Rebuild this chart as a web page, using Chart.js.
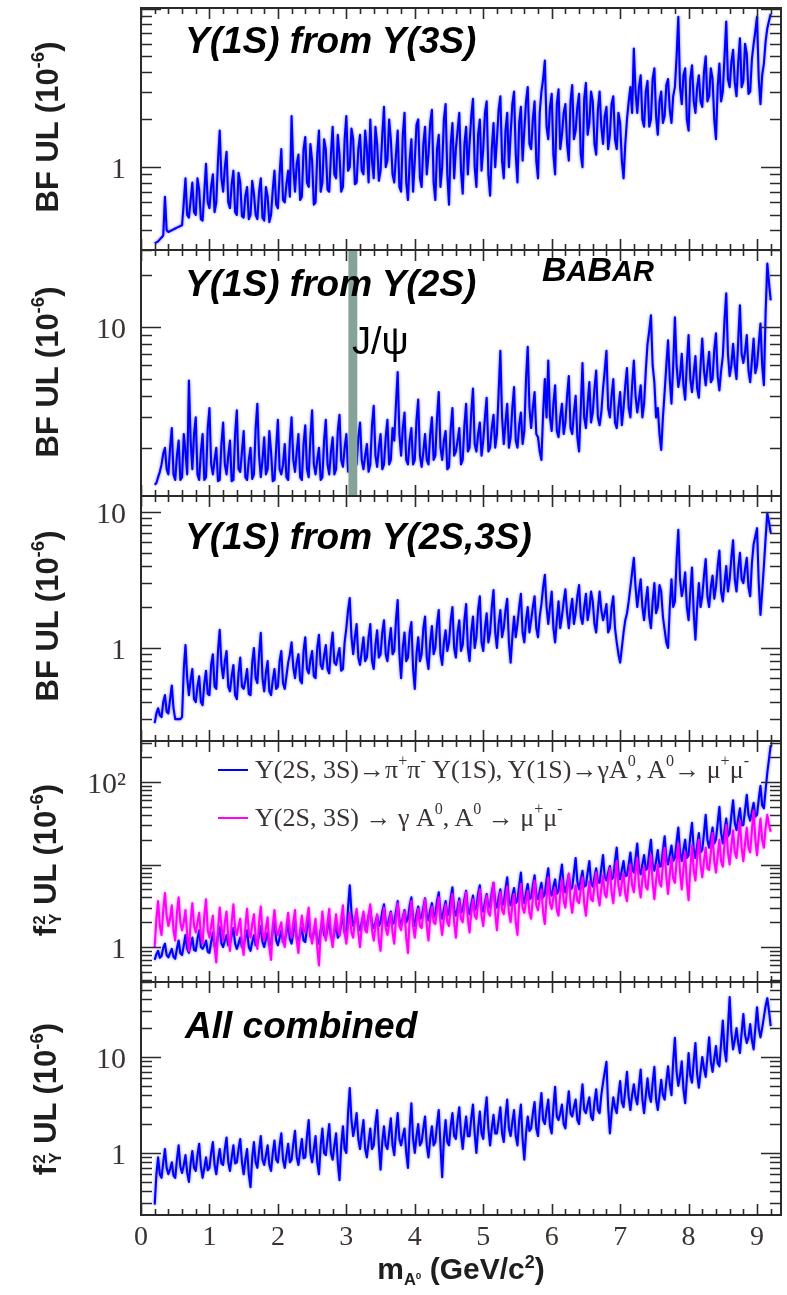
<!DOCTYPE html>
<html lang="en">
  <head>
    <meta charset="UTF-8" />
    <title>Upper limits vs m(A0)</title>
    <script src="https://cdn.jsdelivr.net/npm/chart.js"></script>
    <style>
      * {
        margin: 0;
        padding: 0;
        box-sizing: border-box;
      }
      body {
        width: 787px;
        height: 1295px;
        background: #ffffff;
        position: relative;
        overflow: hidden;
        font-family: "Liberation Sans", Arial, sans-serif;
        color: #111;
      }
      canvas.panel {
        position: absolute;
        left: 0;
      }
      .ytitle {
        position: absolute;
        left: 46px;
        transform: translate(-50%, -50%) rotate(-90deg);
        font-weight: bold;
        font-size: 31px;
        white-space: nowrap;
        color: #1e1e1e;
        line-height: 1;
      }
      .ytitle sup {
        font-size: 0.6em;
        vertical-align: 0.7em;
      }
      .ss {
        display: inline-flex;
        flex-direction: column;
        font-size: 0.55em;
        line-height: 0.95;
        vertical-align: middle;
        margin-left: 1px;
      }
      .tag {
        position: absolute;
        left: 185px;
        font: italic bold 37px "Liberation Sans", Arial, sans-serif;
        line-height: 1;
        white-space: nowrap;
        color: #000;
      }
      .babar {
        position: absolute;
        left: 542px;
        top: 252px;
        font: italic bold 34px "Liberation Sans", Arial, sans-serif;
        line-height: 1;
        color: #000;
      }
      .babar small {
        font-size: 29px;
      }
      .jpsi {
        position: absolute;
        left: 352px;
        top: 322px;
        font: 38px "Liberation Sans", Arial, sans-serif;
        line-height: 1;
        color: #000;
      }
      .leg {
        position: absolute;
        left: 218px;
        font: 26px "Liberation Serif", "Times New Roman", serif;
        line-height: 30px;
        height: 30px;
        display: flex;
        align-items: center;
        white-space: nowrap;
        color: #3a3331;
      }
      .leg sup {
        font-size: 0.62em;
        position: relative;
        top: -0.55em;
        vertical-align: baseline;
        line-height: 0;
      }
      .swatch {
        width: 30px;
        border-top: 2px solid;
        margin-right: 7px;
      }
      .xtitle {
        position: absolute;
        left: 461px;
        top: 1253px;
        transform: translateX(-50%);
        font-weight: bold;
        font-size: 30px;
        white-space: nowrap;
        line-height: 1;
        color: #1e1e1e;
      }
      .xtitle sub {
        font-size: 0.55em;
        vertical-align: -0.35em;
      }
      .xtitle sup {
        font-size: 0.6em;
        vertical-align: 0.6em;
      }
    </style>
  </head>
  <body>
    <canvas id="p1" class="panel" width="787" height="250" style="top: 4px"></canvas>
    <canvas id="p2" class="panel" width="787" height="254" style="top: 246px"></canvas>
    <canvas id="p3" class="panel" width="787" height="253" style="top: 492px"></canvas>
    <canvas id="p4" class="panel" width="787" height="249" style="top: 737px"></canvas>
    <canvas id="p5" class="panel" width="787" height="287" style="top: 978px"></canvas>

    <div class="ytitle" style="top: 127px">BF UL (10<sup>-6</sup>)</div>
    <div class="ytitle" style="top: 372px">BF UL (10<sup>-6</sup>)</div>
    <div class="ytitle" style="top: 616px">BF UL (10<sup>-6</sup>)</div>
    <div class="ytitle" style="top: 860px">
      f<span class="ss"><span>2</span><span>Υ</span></span> UL (10<sup>-6</sup>)
    </div>
    <div class="ytitle" style="top: 1099px">
      f<span class="ss"><span>2</span><span>Υ</span></span> UL (10<sup>-6</sup>)
    </div>

    <div class="tag" style="top: 22px">Y(1S) from Y(3S)</div>
    <div class="tag" style="top: 265px">Y(1S) from Y(2S)</div>
    <div class="tag" style="top: 518px">Y(1S) from Y(2S,3S)</div>
    <div class="tag" style="top: 1007px">All combined</div>
    <div class="babar">B<small>A</small>B<small>AR</small></div>
    <div class="jpsi">J/ψ</div>

    <div class="leg" style="top: 755px">
      <span class="swatch" style="border-color: #0000ff"></span>Y(2S, 3S)→π<sup>+</sup>π<sup>-</sup>&nbsp;Y(1S),
      Y(1S)→γA<sup>0</sup>, A<sup>0</sup>→ μ<sup>+</sup>μ<sup>-</sup>
    </div>
    <div class="leg" style="top: 803px">
      <span class="swatch" style="border-color: #ff00ff"></span>Y(2S, 3S) → γ A<sup>0</sup>, A<sup>0</sup>
      &nbsp;→ μ<sup>+</sup>μ<sup>-</sup>
    </div>

    <div class="xtitle">m<sub>A<sup>0</sup></sub> (GeV/c<sup>2</sup>)</div>

    <script>
      // A0 mass points (GeV/c^2), 25 MeV apart
      const mass = [
        0.200, 0.225, 0.250, 0.275, 0.300, 0.325, 0.350, 0.375, 0.400, 0.425, 0.450, 0.475, 0.500, 0.525, 0.550, 0.575, 0.600, 0.625, 0.650, 0.675,
        0.700, 0.725, 0.750, 0.775, 0.800, 0.825, 0.850, 0.875, 0.900, 0.925, 0.950, 0.975, 1.000, 1.025, 1.050, 1.075, 1.100, 1.125, 1.150, 1.175,
        1.200, 1.225, 1.250, 1.275, 1.300, 1.325, 1.350, 1.375, 1.400, 1.425, 1.450, 1.475, 1.500, 1.525, 1.550, 1.575, 1.600, 1.625, 1.650, 1.675,
        1.700, 1.725, 1.750, 1.775, 1.800, 1.825, 1.850, 1.875, 1.900, 1.925, 1.950, 1.975, 2.000, 2.025, 2.050, 2.075, 2.100, 2.125, 2.150, 2.175,
        2.200, 2.225, 2.250, 2.275, 2.300, 2.325, 2.350, 2.375, 2.400, 2.425, 2.450, 2.475, 2.500, 2.525, 2.550, 2.575, 2.600, 2.625, 2.650, 2.675,
        2.700, 2.725, 2.750, 2.775, 2.800, 2.825, 2.850, 2.875, 2.900, 2.925, 2.950, 2.975, 3.000, 3.025, 3.050, 3.075, 3.100, 3.125, 3.150, 3.175,
        3.200, 3.225, 3.250, 3.275, 3.300, 3.325, 3.350, 3.375, 3.400, 3.425, 3.450, 3.475, 3.500, 3.525, 3.550, 3.575, 3.600, 3.625, 3.650, 3.675,
        3.700, 3.725, 3.750, 3.775, 3.800, 3.825, 3.850, 3.875, 3.900, 3.925, 3.950, 3.975, 4.000, 4.025, 4.050, 4.075, 4.100, 4.125, 4.150, 4.175,
        4.200, 4.225, 4.250, 4.275, 4.300, 4.325, 4.350, 4.375, 4.400, 4.425, 4.450, 4.475, 4.500, 4.525, 4.550, 4.575, 4.600, 4.625, 4.650, 4.675,
        4.700, 4.725, 4.750, 4.775, 4.800, 4.825, 4.850, 4.875, 4.900, 4.925, 4.950, 4.975, 5.000, 5.025, 5.050, 5.075, 5.100, 5.125, 5.150, 5.175,
        5.200, 5.225, 5.250, 5.275, 5.300, 5.325, 5.350, 5.375, 5.400, 5.425, 5.450, 5.475, 5.500, 5.525, 5.550, 5.575, 5.600, 5.625, 5.650, 5.675,
        5.700, 5.725, 5.750, 5.775, 5.800, 5.825, 5.850, 5.875, 5.900, 5.925, 5.950, 5.975, 6.000, 6.025, 6.050, 6.075, 6.100, 6.125, 6.150, 6.175,
        6.200, 6.225, 6.250, 6.275, 6.300, 6.325, 6.350, 6.375, 6.400, 6.425, 6.450, 6.475, 6.500, 6.525, 6.550, 6.575, 6.600, 6.625, 6.650, 6.675,
        6.700, 6.725, 6.750, 6.775, 6.800, 6.825, 6.850, 6.875, 6.900, 6.925, 6.950, 6.975, 7.000, 7.025, 7.050, 7.075, 7.100, 7.125, 7.150, 7.175,
        7.200, 7.225, 7.250, 7.275, 7.300, 7.325, 7.350, 7.375, 7.400, 7.425, 7.450, 7.475, 7.500, 7.525, 7.550, 7.575, 7.600, 7.625, 7.650, 7.675,
        7.700, 7.725, 7.750, 7.775, 7.800, 7.825, 7.850, 7.875, 7.900, 7.925, 7.950, 7.975, 8.000, 8.025, 8.050, 8.075, 8.100, 8.125, 8.150, 8.175,
        8.200, 8.225, 8.250, 8.275, 8.300, 8.325, 8.350, 8.375, 8.400, 8.425, 8.450, 8.475, 8.500, 8.525, 8.550, 8.575, 8.600, 8.625, 8.650, 8.675,
        8.700, 8.725, 8.750, 8.775, 8.800, 8.825, 8.850, 8.875, 8.900, 8.925, 8.950, 8.975, 9.000, 9.025, 9.050, 9.075, 9.100, 9.125, 9.150, 9.175,
        9.200,
      ];

      // BF upper limit, Y(1S) from Y(3S)  (10^-6)
      const bf3s = [
        0.33, 0.335, 0.34, 0.35, 0.36, 0.37, 0.65, 0.40, 0.39, 0.395, 0.40, 0.405, 0.41, 0.415, 0.42, 0.425, 0.43, 0.60, 0.85, 0.50,
        0.48, 0.62, 0.80, 0.52, 0.50, 0.85, 0.72, 0.47, 0.46, 0.70, 1.05, 0.60, 0.55, 0.75, 0.90, 0.52, 0.60, 1.10, 1.70, 0.85,
        0.70, 1.00, 1.25, 0.60, 0.55, 0.78, 0.95, 0.52, 0.50, 0.92, 0.80, 0.49, 0.48, 0.66, 0.75, 0.47, 0.50, 0.82, 0.68, 0.50,
        0.47, 0.70, 0.85, 0.48, 0.46, 0.75, 0.65, 0.45, 0.50, 0.72, 0.95, 0.58, 0.55, 0.90, 1.30, 0.62, 0.60, 0.78, 0.95, 0.65,
        2.10, 1.00, 0.70, 1.05, 1.20, 0.62, 0.65, 1.30, 1.55, 0.80, 0.75, 1.40, 1.10, 0.58, 0.60, 1.20, 1.70, 0.70, 0.80, 1.50,
        1.30, 0.72, 0.70, 1.20, 1.80, 0.90, 0.85, 1.60, 1.20, 0.70, 0.75, 1.50, 2.10, 0.95, 1.00, 1.75, 1.50, 0.78, 0.80, 1.30,
        1.60, 0.95, 0.90, 1.70, 1.30, 0.80, 2.00, 1.10, 0.85, 1.80, 1.40, 0.82, 0.95, 1.60, 2.40, 1.00, 1.10, 2.00, 1.50, 0.90,
        0.80, 1.20, 1.70, 0.75, 0.70, 1.60, 2.20, 0.80, 0.62, 1.10, 1.50, 0.70, 1.10, 1.85, 2.00, 0.85, 0.75, 1.40, 1.80, 0.90,
        1.20, 1.90, 2.30, 0.80, 0.62, 1.30, 1.60, 0.75, 1.00, 2.00, 2.50, 0.90, 0.58, 1.40, 1.90, 0.85, 1.30, 1.70, 2.20, 0.95,
        0.68, 1.40, 1.80, 0.90, 1.40, 2.10, 2.70, 1.00, 0.75, 1.60, 2.00, 0.95, 1.30, 2.20, 2.60, 0.90, 0.66, 1.30, 1.90, 1.00,
        1.50, 2.30, 2.80, 1.10, 0.85, 1.70, 2.20, 1.00, 1.60, 2.50, 3.00, 1.20, 0.80, 1.90, 2.40, 1.10, 1.70, 2.60, 3.20, 1.40,
        1.30, 2.00, 2.60, 1.10, 0.85, 2.20, 3.00, 3.60, 4.70, 1.80, 1.50, 2.40, 2.90, 1.20, 0.90, 2.50, 3.10, 1.30, 1.60, 2.20,
        2.50, 1.40, 1.10, 2.60, 3.30, 1.50, 1.70, 2.40, 2.90, 1.20, 1.00, 2.70, 3.40, 1.60, 1.90, 3.00, 2.60, 1.40, 1.20, 2.30,
        3.00, 1.80, 1.40, 2.10, 2.40, 1.30, 1.60, 2.50, 2.80, 1.50, 1.30, 2.20, 1.90, 1.10, 0.85, 1.40, 2.00, 2.60, 3.20, 2.20,
        5.60, 3.00, 2.20, 3.20, 3.80, 2.00, 1.80, 3.00, 3.50, 1.80, 2.00, 3.60, 4.20, 2.10, 1.60, 2.60, 3.00, 1.90, 2.10, 3.30,
        3.60, 2.30, 1.90, 2.80, 3.20, 5.00, 8.90, 3.20, 2.50, 3.80, 4.20, 2.00, 1.70, 3.60, 4.40, 2.60, 2.20, 3.20, 3.80, 2.60,
        2.40, 4.00, 5.00, 2.60, 2.80, 4.20, 3.60, 2.00, 1.50, 3.20, 4.50, 2.60, 3.00, 5.00, 8.30, 3.60, 3.20, 4.60, 5.50, 3.40,
        2.80, 4.60, 6.50, 3.20, 3.50, 6.00, 5.20, 2.90, 3.00, 4.80, 6.00, 7.20, 8.90, 3.60, 2.50, 3.80, 4.50, 6.20, 7.50, 8.40,
        9.30,
      ];

      // BF upper limit, Y(1S) from Y(2S)
      const bf2s = [
        1.22, 1.25, 1.35, 1.45, 1.60, 1.85, 2.00, 1.50, 1.40, 2.00, 2.60, 1.40, 1.30, 1.80, 2.20, 1.30, 1.35, 2.40, 1.90, 1.40,
        4.90, 2.20, 1.50, 2.40, 3.00, 1.40, 1.30, 1.90, 2.40, 1.30, 1.35, 2.60, 3.40, 1.60, 1.40, 1.70, 2.00, 1.28, 1.30, 2.10,
        2.80, 1.60, 1.40, 1.80, 2.20, 1.28, 1.30, 2.40, 3.30, 1.50, 1.45, 1.90, 2.50, 1.35, 1.30, 1.70, 2.00, 1.32, 1.40, 2.60,
        3.60, 1.80, 1.35, 1.70, 2.30, 1.40, 1.50, 2.50, 1.90, 1.28, 1.30, 2.00, 2.90, 1.50, 1.40, 1.60, 2.10, 1.35, 1.30, 2.20,
        3.00, 1.70, 1.45, 1.90, 2.40, 1.35, 1.30, 2.10, 2.70, 1.50, 1.35, 2.30, 3.30, 1.60, 1.40, 1.70, 2.00, 1.30, 1.35, 2.20,
        2.90, 1.60, 1.40, 1.90, 2.30, 1.40, 1.50, 2.50, 3.10, 1.70, 1.55, 2.00, 2.40, 1.45, 1.50, 2.60, 3.20, 1.80, 1.60, 2.30,
        2.80, 1.70, 1.50, 1.80, 2.10, 1.45, 1.60, 2.70, 3.50, 1.80, 1.55, 2.00, 2.40, 1.50, 1.60, 2.30, 2.90, 1.60, 1.70, 2.60,
        2.20, 3.60, 5.50, 2.40, 1.80, 2.60, 3.20, 1.70, 1.60, 2.20, 2.60, 1.60, 1.70, 2.90, 3.80, 1.80, 1.55, 1.90, 2.40, 1.70,
        1.60, 2.40, 3.00, 1.70, 1.80, 3.00, 4.20, 2.00, 1.70, 2.20, 2.50, 1.50, 1.55, 2.60, 3.40, 1.80, 1.90, 2.20, 2.60, 1.60,
        1.70, 2.70, 3.60, 1.90, 2.00, 3.20, 4.40, 2.10, 1.90, 2.40, 2.80, 1.80, 2.20, 3.00, 3.90, 1.90, 2.00, 2.60, 3.10, 2.00,
        2.40, 4.20, 7.30, 3.00, 2.10, 2.80, 3.60, 2.00, 2.30, 3.40, 4.50, 2.20, 2.00, 2.70, 3.20, 2.10, 2.50, 5.00, 7.70, 3.40,
        2.60, 3.40, 4.20, 2.40, 2.30, 1.90, 1.70, 3.20, 5.00, 3.00, 6.40, 3.00, 2.50, 3.60, 4.60, 2.50, 2.30, 3.00, 3.60, 2.40,
        2.80, 4.00, 5.20, 2.60, 2.40, 3.20, 4.00, 2.30, 1.90, 3.40, 6.20, 3.00, 2.60, 3.60, 4.80, 2.80, 3.20, 4.40, 5.60, 3.00,
        2.70, 3.20, 4.40, 5.60, 7.30, 3.40, 3.00, 4.00, 5.00, 2.80, 2.60, 3.40, 4.20, 2.70, 3.40, 4.60, 5.80, 3.40, 3.00, 4.60,
        6.40, 4.00, 3.20, 3.80, 4.60, 3.00, 3.60, 5.60, 8.00, 9.50, 11.7, 6.00, 4.80, 3.00, 3.40, 2.40, 1.94, 3.00, 4.20, 6.00,
        8.40, 5.00, 3.60, 6.00, 11.4, 6.00, 4.50, 5.20, 7.00, 4.60, 3.80, 6.20, 9.00, 5.00, 4.20, 5.40, 6.80, 4.40, 3.90, 6.00,
        8.60, 5.60, 4.60, 5.80, 7.20, 4.80, 5.00, 7.40, 9.20, 5.20, 4.30, 5.60, 6.80, 11.0, 15.7, 7.00, 5.20, 6.00, 8.00, 6.00,
        5.00, 8.40, 13.4, 7.00, 6.20, 7.20, 9.00, 5.60, 4.80, 6.40, 8.60, 5.40, 6.00, 8.00, 10.5, 6.00, 4.60, 12.0, 23.4, 18.0,
        14.3,
      ];

      // BF upper limit, Y(1S) from Y(2S,3S)
      const bf23 = [
        0.28, 0.33, 0.36, 0.32, 0.31, 0.40, 0.45, 0.34, 0.33, 0.42, 0.53, 0.36, 0.30, 0.30, 0.30, 0.30, 0.31, 0.70, 1.05, 0.60,
        0.45, 0.58, 0.70, 0.42, 0.40, 0.52, 0.62, 0.40, 0.38, 0.55, 0.68, 0.46, 0.45, 0.75, 0.90, 0.52, 0.50, 0.95, 1.36, 0.75,
        0.60, 0.80, 0.95, 0.52, 0.48, 0.62, 0.75, 0.45, 0.42, 0.65, 0.85, 0.52, 0.50, 0.58, 0.70, 0.46, 0.45, 0.78, 1.00, 0.60,
        0.55, 0.90, 1.29, 0.60, 0.48, 0.66, 0.80, 0.48, 0.45, 0.58, 0.70, 0.50, 0.52, 0.80, 0.95, 0.55, 0.50, 0.62, 0.78, 0.90,
        1.10, 0.72, 0.60, 0.78, 0.90, 0.58, 0.55, 0.95, 1.20, 0.70, 0.65, 0.82, 0.95, 0.62, 0.60, 1.00, 1.25, 0.75, 0.70, 0.88,
        1.05, 0.70, 0.65, 1.00, 1.30, 0.78, 0.75, 0.88, 1.00, 0.68, 0.70, 1.10, 1.40, 1.90, 2.33, 1.20, 0.90, 1.20, 1.50, 0.85,
        0.75, 0.95, 1.20, 0.80, 0.85, 1.20, 1.50, 0.80, 0.70, 1.05, 1.35, 0.85, 0.90, 1.30, 1.60, 0.90, 0.80, 1.10, 1.40, 0.90,
        0.95, 1.60, 2.25, 0.90, 0.60, 1.00, 1.30, 0.80, 0.85, 1.30, 1.55, 0.70, 0.50, 0.90, 1.20, 0.80, 0.90, 1.40, 1.70, 0.85,
        0.70, 1.10, 1.45, 0.90, 1.00, 1.50, 1.90, 0.90, 0.75, 1.10, 1.35, 0.95, 1.10, 1.60, 2.00, 1.00, 0.85, 1.30, 1.60, 0.95,
        1.05, 1.60, 2.10, 1.00, 0.80, 1.30, 1.70, 1.00, 1.20, 1.90, 2.40, 1.10, 0.95, 1.40, 1.80, 1.10, 1.30, 2.00, 2.67, 1.30,
        1.00, 1.50, 1.90, 1.20, 1.40, 1.90, 2.30, 1.10, 0.78, 1.20, 1.70, 1.20, 1.50, 2.00, 2.50, 1.30, 1.10, 1.60, 2.00, 1.30,
        1.60, 2.00, 2.40, 1.40, 1.20, 1.70, 2.10, 2.80, 3.45, 2.00, 1.50, 2.00, 2.60, 1.40, 1.10, 1.60, 2.20, 1.40, 1.70, 2.20,
        2.70, 1.80, 1.40, 1.90, 2.30, 1.50, 1.80, 2.40, 2.90, 1.70, 1.50, 2.00, 2.50, 1.60, 1.90, 2.60, 2.20, 1.50, 1.30, 1.90,
        2.60, 1.90, 1.60, 1.80, 2.10, 1.30, 1.40, 2.00, 2.40, 1.40, 1.10, 0.90, 0.78, 1.00, 1.30, 1.60, 1.80, 2.20, 2.80, 3.60,
        4.60, 2.80, 2.00, 2.60, 3.20, 2.00, 1.60, 2.20, 2.80, 1.70, 1.40, 2.20, 3.00, 1.80, 2.00, 2.90, 2.60, 1.70, 1.36, 1.10,
        1.00, 2.00, 3.20, 2.00, 2.20, 4.50, 7.40, 3.20, 2.40, 2.80, 3.60, 2.00, 1.60, 2.60, 3.90, 1.80, 1.15, 2.00, 3.00, 2.00,
        2.40, 3.40, 4.50, 2.40, 2.00, 2.80, 3.40, 2.30, 2.80, 4.00, 5.20, 2.60, 2.20, 3.00, 4.00, 2.60, 3.20, 4.60, 6.20, 3.20,
        2.60, 3.80, 5.00, 3.20, 3.00, 3.80, 4.60, 2.80, 2.40, 4.20, 5.80, 6.60, 7.60, 3.00, 1.75, 2.60, 4.00, 6.40, 9.80, 8.40,
        7.00,
      ];

      // f^2 upper limit, Y(2S,3S) -> pi+ pi- Y(1S), Y(1S) -> gamma A0
      const f2Cascade = [
        0.70, 0.82, 0.90, 0.74, 0.78, 0.98, 1.10, 0.80, 0.75, 0.85, 0.95, 0.76, 0.72, 0.96, 1.20, 0.84, 0.80, 1.05, 1.40, 0.95,
        0.85, 1.05, 1.30, 0.92, 0.90, 1.25, 1.60, 1.00, 0.95, 1.05, 1.20, 0.88, 0.85, 1.15, 1.50, 1.02, 1.00, 1.40, 1.75, 1.10,
        1.00, 1.20, 1.40, 1.05, 1.10, 1.40, 1.70, 1.10, 0.95, 1.10, 1.30, 1.00, 1.05, 1.30, 1.60, 1.00, 0.90, 1.15, 1.40, 1.05,
        1.10, 1.40, 1.80, 1.15, 1.00, 1.25, 1.50, 1.05, 1.10, 1.60, 2.10, 1.20, 1.05, 1.30, 1.60, 1.15, 1.20, 1.50, 1.90, 1.25,
        1.10, 1.50, 2.00, 1.30, 1.20, 1.40, 1.70, 1.20, 1.15, 1.70, 2.30, 1.35, 1.25, 1.50, 1.80, 1.20, 1.10, 1.60, 2.10, 1.40,
        1.30, 1.70, 2.20, 1.35, 1.20, 1.50, 1.90, 1.30, 1.40, 1.90, 2.40, 1.50, 1.30, 3.00, 5.60, 2.60, 1.80, 2.10, 2.60, 1.80,
        1.60, 2.00, 2.50, 1.70, 1.80, 2.40, 2.90, 1.90, 1.70, 2.00, 2.40, 1.80, 2.00, 2.70, 3.30, 2.00, 1.80, 2.20, 2.70, 1.90,
        2.00, 2.70, 3.60, 2.10, 1.90, 2.30, 2.80, 2.00, 2.20, 3.20, 4.00, 2.20, 1.80, 2.50, 3.10, 2.20, 2.30, 3.00, 3.90, 2.40,
        2.10, 2.80, 3.40, 2.30, 2.50, 3.60, 4.60, 2.60, 2.20, 2.90, 3.60, 2.40, 2.60, 4.00, 5.30, 2.80, 2.40, 3.00, 3.90, 2.60,
        2.80, 3.80, 4.80, 2.80, 2.50, 3.30, 4.20, 2.80, 3.00, 4.40, 5.60, 3.00, 2.70, 3.50, 4.40, 3.00, 3.20, 4.60, 6.00, 3.40,
        3.00, 4.00, 5.00, 3.20, 3.40, 5.00, 7.00, 3.60, 3.20, 4.20, 5.20, 3.40, 3.60, 5.60, 8.00, 4.00, 3.40, 4.60, 5.80, 3.80,
        4.00, 5.60, 7.40, 4.20, 3.80, 4.80, 6.00, 4.00, 4.40, 6.60, 9.00, 4.80, 4.20, 5.40, 6.60, 4.40, 4.80, 7.20, 10.0, 5.40,
        4.60, 6.00, 7.60, 5.00, 5.20, 8.00, 12.0, 6.20, 5.00, 6.60, 8.40, 5.40, 5.60, 8.00, 11.0, 6.00, 5.40, 7.00, 9.00, 6.20,
        6.00, 9.00, 13.0, 7.00, 6.40, 8.00, 9.60, 6.60, 7.00, 11.0, 16.0, 8.00, 6.60, 8.60, 11.0, 7.20, 7.40, 10.0, 14.0, 8.60,
        8.00, 12.0, 18.0, 9.00, 7.60, 10.0, 13.0, 8.60, 9.00, 14.0, 20.0, 10.0, 8.40, 11.0, 15.0, 9.40, 9.60, 15.0, 22.0, 12.0,
        10.0, 13.0, 17.0, 11.0, 12.0, 19.0, 28.0, 14.0, 11.0, 15.0, 20.0, 12.0, 13.0, 22.0, 32.0, 15.0, 12.0, 17.0, 24.0, 14.0,
        15.0, 24.0, 40.0, 20.0, 16.0, 21.0, 28.0, 18.0, 20.0, 32.0, 50.0, 24.0, 18.0, 26.0, 36.0, 22.0, 24.0, 40.0, 60.0, 32.0,
        26.0, 36.0, 48.0, 30.0, 30.0, 46.0, 70.0, 40.0, 34.0, 44.0, 56.0, 38.0, 40.0, 62.0, 90.0, 52.0, 48.0, 80.0, 130, 190,
        280,
      ];

      // f^2 upper limit, Y(2S,3S) -> gamma A0
      const f2Direct = [
        1.00, 2.20, 3.60, 1.80, 1.40, 2.80, 4.50, 2.40, 1.80, 2.20, 3.20, 1.60, 1.20, 2.60, 4.00, 2.00, 1.60, 2.00, 2.80, 1.40,
        0.90, 2.00, 3.40, 1.80, 1.50, 2.00, 2.60, 1.40, 1.10, 2.40, 3.80, 1.60, 1.30, 1.80, 2.40, 1.00, 0.65, 1.60, 3.00, 1.80,
        1.20, 2.00, 2.70, 1.30, 0.90, 2.00, 3.30, 1.70, 1.40, 1.80, 2.20, 1.10, 0.80, 1.80, 2.90, 1.50, 1.30, 1.90, 2.50, 1.30,
        0.95, 2.00, 3.10, 1.50, 1.20, 1.70, 2.30, 1.00, 0.70, 1.80, 2.80, 1.60, 1.40, 1.70, 2.00, 1.20, 1.00, 1.80, 2.60, 1.60,
        1.30, 2.00, 2.80, 1.20, 0.85, 1.60, 2.40, 1.60, 1.50, 2.20, 3.00, 1.40, 1.10, 1.60, 2.20, 1.00, 0.60, 1.50, 2.70, 1.60,
        1.20, 2.00, 2.90, 1.40, 1.00, 1.70, 2.50, 1.60, 1.40, 2.20, 3.20, 1.50, 1.10, 1.80, 2.60, 1.50, 1.30, 2.10, 2.90, 1.50,
        1.00, 1.80, 2.70, 1.60, 1.50, 2.40, 3.30, 1.60, 1.20, 1.80, 2.50, 1.20, 0.90, 1.90, 3.00, 1.70, 1.40, 1.90, 2.60, 1.50,
        1.10, 2.20, 3.40, 1.80, 1.60, 2.20, 2.70, 1.30, 0.85, 2.20, 3.60, 1.80, 1.30, 2.00, 2.90, 1.80, 1.70, 2.60, 3.80, 1.80,
        1.20, 2.20, 3.10, 2.00, 1.90, 2.80, 4.00, 2.00, 1.40, 2.20, 3.30, 2.00, 1.80, 3.00, 4.40, 2.00, 1.30, 2.40, 3.60, 2.20,
        2.00, 3.20, 4.60, 2.20, 1.50, 2.60, 3.80, 2.40, 2.20, 3.40, 5.00, 2.40, 1.80, 3.00, 4.20, 2.60, 2.40, 4.00, 6.00, 2.60,
        1.60, 3.00, 4.60, 2.80, 2.50, 3.80, 5.40, 2.60, 2.00, 3.20, 4.40, 2.00, 1.40, 3.40, 5.80, 3.00, 2.60, 3.60, 4.80, 2.60,
        2.20, 4.00, 6.40, 3.20, 2.80, 3.80, 5.00, 2.60, 1.90, 4.00, 7.00, 3.40, 2.90, 4.00, 5.20, 2.80, 2.40, 4.40, 6.60, 3.60,
        3.00, 5.00, 7.80, 3.60, 2.60, 4.00, 5.60, 3.60, 3.40, 5.00, 7.00, 3.40, 2.40, 4.00, 6.20, 3.80, 3.60, 5.60, 8.00, 4.20,
        3.20, 5.20, 7.40, 4.40, 4.00, 6.40, 9.00, 4.60, 3.40, 6.00, 11.0, 5.60, 4.20, 6.00, 7.80, 4.40, 3.60, 6.20, 10.0, 5.60,
        4.60, 8.00, 12.0, 5.60, 4.00, 6.60, 9.40, 5.40, 5.00, 8.40, 13.0, 6.00, 3.80, 6.40, 10.0, 6.00, 5.40, 10.0, 16.0, 7.00,
        4.40, 7.60, 12.0, 6.80, 6.00, 11.0, 18.0, 8.00, 5.00, 9.00, 14.0, 6.00, 3.70, 9.00, 17.0, 8.40, 6.40, 12.0, 20.0, 10.0,
        7.00, 11.0, 16.0, 9.00, 8.60, 14.0, 24.0, 11.0, 8.00, 13.0, 20.0, 11.0, 9.40, 18.0, 30.0, 14.0, 10.0, 17.0, 26.0, 14.0,
        12.0, 20.0, 34.0, 16.0, 11.0, 18.0, 28.0, 16.0, 14.0, 26.0, 45.0, 20.0, 13.0, 22.0, 36.0, 20.0, 16.0, 28.0, 40.0, 30.0,
        25.0,
      ];

      // f^2 upper limit, all combined
      const f2All = [
        0.29, 0.60, 0.90, 0.60, 0.55, 0.80, 1.10, 0.70, 0.60, 0.68, 0.80, 0.58, 0.55, 0.85, 1.20, 0.72, 0.62, 0.75, 0.95, 0.62,
        0.50, 0.78, 1.05, 0.70, 0.65, 0.95, 1.25, 0.72, 0.55, 0.70, 0.90, 0.66, 0.70, 1.00, 1.30, 0.75, 0.60, 0.85, 1.10, 0.78,
        0.75, 1.10, 1.45, 0.80, 0.65, 0.90, 1.20, 0.78, 0.80, 1.10, 1.40, 0.80, 0.60, 0.85, 1.10, 0.60, 0.44, 0.90, 1.30, 0.80,
        0.70, 1.05, 1.50, 0.85, 0.75, 0.95, 1.20, 0.75, 0.65, 1.00, 1.35, 0.85, 0.80, 1.20, 1.60, 0.85, 0.70, 0.95, 1.25, 0.80,
        0.85, 1.25, 1.70, 0.90, 0.75, 1.05, 1.40, 0.88, 0.90, 1.50, 2.20, 1.00, 0.80, 1.10, 1.50, 0.80, 0.60, 1.20, 1.80, 1.00,
        0.95, 1.40, 2.00, 1.00, 0.85, 1.20, 1.60, 0.80, 0.52, 1.20, 1.90, 1.10, 1.00, 2.60, 4.75, 2.20, 1.50, 1.90, 2.60, 1.40,
        1.10, 1.60, 2.20, 1.10, 0.90, 1.30, 1.80, 1.10, 1.20, 2.00, 2.80, 1.20, 0.67, 1.30, 1.90, 1.20, 1.10, 1.60, 2.30, 1.20,
        0.95, 1.70, 2.60, 1.40, 1.20, 1.50, 1.80, 1.00, 0.70, 1.80, 3.30, 1.40, 1.00, 1.50, 2.00, 1.20, 1.30, 1.80, 2.40, 1.20,
        0.90, 1.40, 1.90, 1.20, 1.30, 2.00, 2.80, 1.20, 0.56, 1.40, 2.20, 1.30, 1.20, 1.90, 2.60, 1.50, 1.40, 2.20, 3.00, 1.60,
        1.10, 1.70, 2.40, 1.50, 1.50, 2.30, 3.20, 1.60, 1.00, 1.80, 2.70, 1.60, 1.40, 2.60, 3.80, 1.80, 1.20, 1.80, 2.50, 1.60,
        1.60, 2.20, 3.00, 1.60, 1.30, 2.40, 3.60, 1.80, 1.50, 2.10, 2.80, 1.50, 1.20, 2.20, 3.20, 1.40, 0.85, 1.60, 2.40, 1.70,
        1.80, 2.60, 3.40, 1.80, 1.50, 2.80, 4.20, 2.20, 2.00, 2.80, 3.60, 1.90, 1.60, 3.00, 4.90, 2.40, 2.20, 2.60, 3.20, 2.00,
        1.80, 3.00, 4.40, 2.60, 2.40, 3.00, 3.60, 2.20, 2.00, 3.40, 5.20, 2.80, 2.60, 3.20, 3.80, 2.40, 2.20, 3.40, 4.60, 2.80,
        2.60, 4.00, 5.40, 7.00, 8.90, 3.00, 1.60, 2.60, 3.80, 3.00, 2.60, 4.00, 5.60, 3.40, 3.00, 4.60, 7.00, 3.80, 2.80, 4.00,
        5.20, 3.80, 3.20, 5.00, 7.40, 3.60, 2.60, 4.00, 6.00, 4.00, 3.40, 5.40, 7.90, 3.60, 2.80, 4.00, 5.80, 4.00, 3.60, 5.60,
        8.00, 5.20, 4.00, 9.00, 15.8, 7.00, 5.00, 6.40, 9.00, 4.60, 3.30, 6.00, 11.0, 6.40, 5.40, 9.00, 14.0, 6.60, 4.80, 7.00,
        10.0, 7.60, 6.20, 10.0, 16.0, 9.00, 7.00, 9.60, 13.0, 8.60, 8.00, 14.0, 24.0, 12.0, 9.00, 20.0, 42.0, 18.0, 12.0, 15.0,
        20.0, 14.0, 11.0, 18.0, 28.0, 17.0, 14.0, 16.0, 22.0, 15.0, 12.0, 20.0, 33.0, 20.0, 16.0, 20.0, 26.0, 34.0, 41.0, 30.0,
        21.0,
      ];

      // axes
      const xRange = [0, 9.35];
      const xTickValues = [0, 1, 2, 3, 4, 5, 6, 7, 8, 9];
      const p1Range = [0.3, 10.1];
      const p2Range = [1.05, 28];
      const p3Range = [0.207, 13.1];
      const p4Range = [0.377, 314];
      const p5Range = [0.226, 60.4];
      const p1Ticks = [1];
      const p2Ticks = [10];
      const p3Ticks = [1, 10];
      const p4Ticks = [1, 100];
      const p5Ticks = [1, 10];
      const p3Labels = ["1", "10"];
      const p4Labels = ["1", "10²"];
      const p5Labels = ["1", "10"];
      const jpsiBand = [3.03, 3.16];

      const BLUE = "#0000ff";
      const PINK = "#ff00ff";
      const LABEL_COLOR = "#3a3331";

      // soft halo round the curves, like the blurred print
      const glow = {
        id: "glow",
        beforeDatasetDraw(chart, args) {
          const c = args.meta.dataset.options.borderColor;
          chart.ctx.save();
          chart.ctx.shadowColor = c === PINK ? "rgba(255, 0, 255, 0.55)" : "rgba(0, 0, 255, 0.55)";
          chart.ctx.shadowBlur = 3;
        },
        afterDatasetDraw(chart) {
          chart.ctx.restore();
        },
      };

      // frame + inward ROOT-style ticks, and the J/psi veto band
      const frameTicks = {
        id: "frameTicks",
        afterDatasetsDraw(chart, args, opts) {
          const { ctx, chartArea: a, scales } = chart;
          const x = scales.x;
          const y = scales.y;
          ctx.save();
          if (opts.band) {
            const b0 = x.getPixelForValue(opts.band[0]);
            const b1 = x.getPixelForValue(opts.band[1]);
            ctx.fillStyle = "#86a39a";
            ctx.fillRect(b0, a.top, b1 - b0, a.bottom - a.top);
          }
          ctx.strokeStyle = "#2a2a2a";
          ctx.lineWidth = 1.6;
          ctx.beginPath();
          for (let k = 0; k * 0.2 <= x.max; k++) {
            const px = Math.round(x.getPixelForValue(k * 0.2)) + 0.5;
            const len = k % 5 === 0 ? 11 : 6;
            ctx.moveTo(px, a.bottom);
            ctx.lineTo(px, a.bottom - len);
            ctx.moveTo(px, a.top);
            ctx.lineTo(px, a.top + len);
          }
          const lo = Math.floor(Math.log10(y.min));
          const hi = Math.ceil(Math.log10(y.max));
          for (let d = lo; d <= hi; d++) {
            for (let m = 1; m <= 9; m++) {
              const v = m * Math.pow(10, d);
              if (v < y.min || v > y.max) continue;
              const py = Math.round(y.getPixelForValue(v)) + 0.5;
              const len = m === 1 ? 20 : 11;
              ctx.moveTo(a.left, py);
              ctx.lineTo(a.left + len, py);
              ctx.moveTo(a.right, py);
              ctx.lineTo(a.right - len, py);
            }
          }
          ctx.stroke();
          ctx.lineWidth = 2;
          ctx.strokeRect(a.left, a.top, a.right - a.left, a.bottom - a.top);
          ctx.restore();
        },
      };

      function drawPanel(id, cfg) {
        const showX = !!cfg.showX;
        return new Chart(document.getElementById(id), {
          type: "line",
          data: {
            datasets: cfg.series.map((s) => ({
              label: s.label,
              data: mass.map((m, i) => ({ x: m, y: s.values[i] })),
              borderColor: s.color,
              borderWidth: 2.1,
              borderJoinStyle: "round",
              pointRadius: 0,
              tension: 0,
              clip: 0,
              order: s.order || 0,
            })),
          },
          options: {
            responsive: false,
            animation: false,
            events: [],
            layout: {
              autoPadding: false,
              padding: { top: 4, right: 6, bottom: showX ? 0 : 4, left: 0 },
            },
            plugins: {
              legend: { display: false },
              tooltip: { enabled: false },
              frameTicks: { band: cfg.band },
            },
            scales: {
              x: {
                type: "linear",
                min: xRange[0],
                max: xRange[1],
                display: showX,
                grid: { display: false, drawTicks: false },
                border: { display: false },
                afterBuildTicks: (s) => {
                  s.ticks = xTickValues.map((v) => ({ value: v }));
                },
                afterFit: (s) => {
                  s.height = showX ? 50 : 0;
                  s.paddingLeft = 0;
                  s.paddingRight = 0;
                },
                ticks: {
                  font: { family: "Liberation Serif", size: 28 },
                  color: LABEL_COLOR,
                  padding: 6,
                  maxRotation: 0,
                  autoSkip: false,
                },
              },
              y: {
                type: "logarithmic",
                min: cfg.range[0],
                max: cfg.range[1],
                grid: { display: false, drawTicks: false },
                border: { display: false },
                afterBuildTicks: (s) => {
                  s.ticks = cfg.ticks.map((v) => ({ value: v }));
                },
                afterFit: (s) => {
                  s.width = 141;
                  s.paddingTop = 0;
                  s.paddingBottom = 0;
                },
                ticks: {
                  font: { family: "Liberation Serif", size: 30 },
                  color: LABEL_COLOR,
                  padding: 15,
                  labelOffset: 3,
                  autoSkip: false,
                  callback: (v, i) => cfg.labels[i],
                },
              },
            },
          },
          plugins: [glow, frameTicks],
        });
      }

      drawPanel("p1", {
        range: p1Range,
        ticks: p1Ticks,
        labels: ["1"],
        series: [{ label: "Y(1S) from Y(3S)", values: bf3s, color: BLUE }],
      });
      drawPanel("p2", {
        range: p2Range,
        ticks: p2Ticks,
        labels: ["10"],
        band: jpsiBand,
        series: [{ label: "Y(1S) from Y(2S)", values: bf2s, color: BLUE }],
      });
      drawPanel("p3", {
        range: p3Range,
        ticks: p3Ticks,
        labels: p3Labels,
        series: [{ label: "Y(1S) from Y(2S,3S)", values: bf23, color: BLUE }],
      });
      drawPanel("p4", {
        range: p4Range,
        ticks: p4Ticks,
        labels: p4Labels,
        series: [
          { label: "Y(2S,3S)→π+π- Y(1S), Y(1S)→γA0, A0→μ+μ-", values: f2Cascade, color: BLUE, order: 1 },
          { label: "Y(2S,3S)→γA0, A0→μ+μ-", values: f2Direct, color: PINK, order: 0 },
        ],
      });
      drawPanel("p5", {
        range: p5Range,
        ticks: p5Ticks,
        labels: p5Labels,
        showX: true,
        series: [{ label: "All combined", values: f2All, color: BLUE }],
      });
    </script>
  </body>
</html>
